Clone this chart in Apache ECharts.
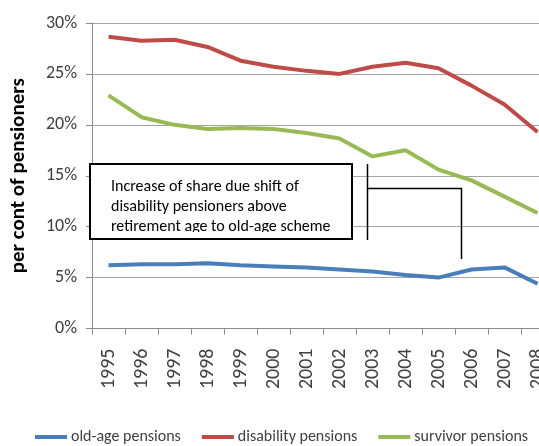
<!DOCTYPE html>
<html>
<head>
<meta charset="utf-8">
<script src="https://cdn.jsdelivr.net/npm/echarts@6/dist/echarts.min.js"></script>
<style>
  html, body { margin: 0; padding: 0; background: #fff; overflow: hidden; }
  /* the plot runs a little past the right edge of the window */
  #chart { width: 554px; height: 446px; }
</style>
</head>
<body>
<div id="chart"></div>
<script>
// Years on the category axis
const years = ['1995', '1996', '1997', '1998', '1999', '2000', '2001',
               '2002', '2003', '2004', '2005', '2006', '2007', '2008'];

// Share of each pension type in all pensioners (%)
const oldAge     = [6.2, 6.3, 6.3, 6.4, 6.2, 6.1, 6.0, 5.8, 5.6, 5.25, 5.0, 5.8, 6.0, 4.4];
const disability = [28.65, 28.25, 28.35, 27.65, 26.3, 25.7, 25.3, 25.0, 25.7, 26.1, 25.55, 23.85, 22.0, 19.3];
const survivor   = [22.9, 20.75, 20.0, 19.6, 19.7, 19.6, 19.2, 18.65, 16.9, 17.5, 15.6, 14.55, 12.95, 11.35];

// Y axis ticks
const yMin = 0, yMax = 30, yStep = 5;

const FONT = 'Carlito, Lato, "Liberation Sans", sans-serif';
const TXT = '#404040';

const chart = echarts.init(document.getElementById('chart'), null, { renderer: 'canvas' });

chart.setOption({
  animation: false,
  backgroundColor: '#ffffff',
  textStyle: { fontFamily: FONT },
  grid: { left: 82, top: 23, bottom: 117.5, right: 0, containLabel: false },
  xAxis: {
    type: 'category',
    data: years,
    boundaryGap: true,
    axisLine: { lineStyle: { color: '#8c8c8c', width: 1 } },
    axisTick: { show: true, length: 6, lineStyle: { color: '#8c8c8c' } },
    axisLabel: { rotate: 90, margin: 20, fontSize: 20, color: TXT, fontFamily: FONT, interval: 0 },
    splitLine: { show: false }
  },
  yAxis: {
    type: 'value',
    min: yMin, max: yMax, interval: yStep,
    name: 'per cont of pensioners',
    nameLocation: 'middle',
    nameRotate: 90,
    nameGap: 63,
    nameTextStyle: { fontSize: 21, fontWeight: 'bold', color: '#000', fontFamily: FONT },
    axisLine: { show: true, lineStyle: { color: '#8c8c8c', width: 1 } },
    axisTick: { show: true, length: 6, lineStyle: { color: '#8c8c8c' } },
    axisLabel: { formatter: '{value}%', margin: 15, fontSize: 18, color: TXT, fontFamily: FONT },
    splitLine: { show: true, lineStyle: { color: '#a6a6a6', width: 1 } }
  },
  legend: {
    left: 35, top: 429, padding: 0,
    itemWidth: 32, itemHeight: 4, itemGap: 21,
    icon: 'rect',
    textStyle: { fontSize: 16, color: TXT, fontFamily: FONT, padding: [0, 0, 0, -1] },
    data: ['old-age pensions', 'disability pensions', 'survivor pensions']
  },
  series: [
    { name: 'old-age pensions', type: 'line', data: oldAge, showSymbol: false,
      itemStyle: { color: '#4a7ebb' }, lineStyle: { color: '#4a7ebb', width: 4 } },
    { name: 'disability pensions', type: 'line', data: disability, showSymbol: false,
      itemStyle: { color: '#be4b48' }, lineStyle: { color: '#be4b48', width: 4 } },
    { name: 'survivor pensions', type: 'line', data: survivor, showSymbol: false,
      itemStyle: { color: '#98b954' }, lineStyle: { color: '#98b954', width: 4 } }
  ],
  graphic: [
    // callout box
    { type: 'rect', z: 100,
      shape: { x: 90, y: 164, width: 262, height: 75 },
      style: { fill: '#ffffff', stroke: '#000000', lineWidth: 2 } },
    { type: 'text', z: 101, left: 111, top: 177,
      style: { text: 'Increase of share due shift of\ndisability pensioners above\nretirement age to old-age scheme',
               font: '16px ' + FONT, fill: '#000', lineHeight: 20 } },
    // the text box cuts off the foot of its last line
    { type: 'rect', z: 102,
      shape: { x: 91, y: 232, width: 260, height: 6 },
      style: { fill: '#ffffff' } },
    // bracket
    { type: 'polyline', z: 100,
      shape: { points: [[367.5, 164], [367.5, 240]] },
      style: { stroke: '#000', lineWidth: 1.5, fill: null } },
    { type: 'polyline', z: 100,
      shape: { points: [[367.5, 188.5], [461.5, 188.5], [461.5, 259]] },
      style: { stroke: '#000', lineWidth: 1.5, fill: null } }
  ]
});
</script>
</body>
</html>
